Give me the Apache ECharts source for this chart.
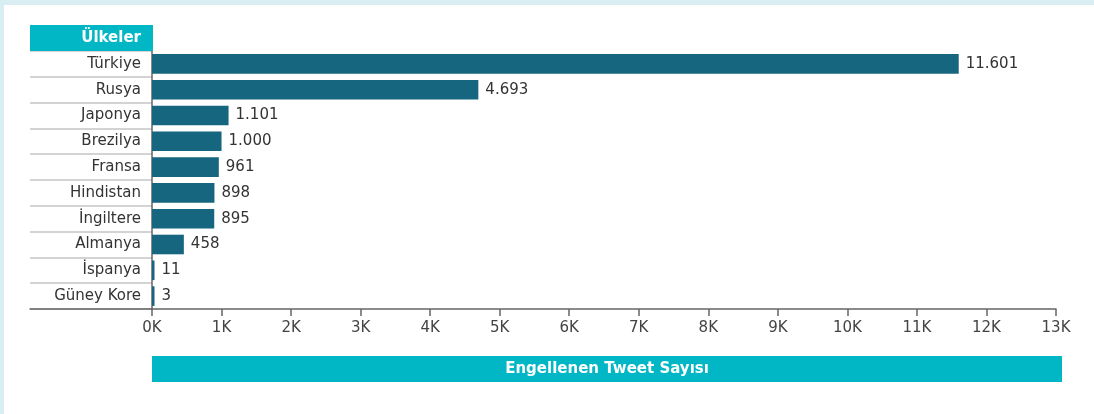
<!DOCTYPE html>
<html>
<head>
<meta charset="utf-8">
<script src="https://cdn.jsdelivr.net/npm/echarts@6/dist/echarts.min.js"></script>
<style>
html,body{margin:0;padding:0;background:#d8eef3;}
#wrap{position:absolute;left:4px;top:5px;right:0;bottom:0;background:#fff;}
#chart{position:absolute;left:0;top:0;width:1094px;height:414px;}
</style>
</head>
<body>
<div id="wrap"></div>
<div id="chart"></div>
<script>
const categories = ['Türkiye','Rusya','Japonya','Brezilya','Fransa','Hindistan','İngiltere','Almanya','İspanya','Güney Kore'];
const values = [11601, 4693, 1101, 1000, 961, 898, 895, 458, 11, 3];
const headerLabel = 'Ülkeler';
const axisTitle = 'Engellenen Tweet Sayısı';

const FONT = 'DejaVu Sans';
const fmt = v => String(v).replace(/\B(?=(\d{3})+(?!\d))/g, '.');

const chart = echarts.init(document.getElementById('chart'), null, {renderer:'canvas'});
chart.setOption({
  backgroundColor: 'transparent',
  animation: false,
  grid: [
    {left: 152, right: 38, top: 51, bottom: 105, containLabel: false},
    {left: 30, width: 122, top: 51, bottom: 105, containLabel: false}
  ],
  xAxis: [
    {
      type: 'value', gridIndex: 0, min: 0, max: 13000, interval: 1000,
      axisLine: {show: true, lineStyle: {color: '#666', width: 1.5}},
      axisTick: {show: true, length: 7, lineStyle: {color: '#666', width: 1.5}},
      splitLine: {show: false},
      axisLabel: {margin: 12, color: '#444', fontFamily: FONT, fontSize: 15,
        formatter: v => (v/1000) + 'K'}
    },
    {
      type: 'value', gridIndex: 1, min: 0, max: 1,
      axisLine: {show: true, lineStyle: {color: '#666', width: 1.5}},
      axisTick: {show: false}, axisLabel: {show: false}, splitLine: {show: false}
    }
  ],
  yAxis: [
    {
      type: 'category', gridIndex: 0, data: categories, inverse: true,
      axisLine: {show: true, lineStyle: {color: '#666', width: 1.5}},
      axisTick: {show: false},
      axisLabel: {margin: 11, color: '#333', fontFamily: FONT, fontSize: 15}
    },
    {
      type: 'category', gridIndex: 1, data: categories, inverse: true,
      axisLine: {show: false}, axisTick: {show: false}, axisLabel: {show: false},
      splitLine: {show: true, lineStyle: {color: '#c4c4c4', width: 1.5}}
    }
  ],
  series: [{
    type: 'bar', xAxisIndex: 0, yAxisIndex: 0, data: values,
    barWidth: '76%', barMinHeight: 2.5, z: 3,
    itemStyle: {color: '#17667f'},
    label: {show: true, position: 'right', distance: 7, color: '#333',
      fontFamily: FONT, fontSize: 15, formatter: p => fmt(p.value)}
  }],
  graphic: [
    {type: 'rect', left: 30, top: 25, z: 100,
      shape: {width: 123, height: 26}, style: {fill: '#02b7c5'}},
    {type: 'text', z: 101, x: 141, y: 38,
      style: {text: headerLabel, fill: '#fff', font: 'bold 15px "' + FONT + '"',
        align: 'right', verticalAlign: 'middle'}},
    {type: 'rect', left: 152, top: 356, z: 100,
      shape: {width: 910, height: 26}, style: {fill: '#02b7c5'}},
    {type: 'text', z: 101, x: 607, y: 369,
      style: {text: axisTitle, fill: '#fff', font: 'bold 15px "' + FONT + '"',
        align: 'center', verticalAlign: 'middle'}}
  ]
});
</script>
</body>
</html>
